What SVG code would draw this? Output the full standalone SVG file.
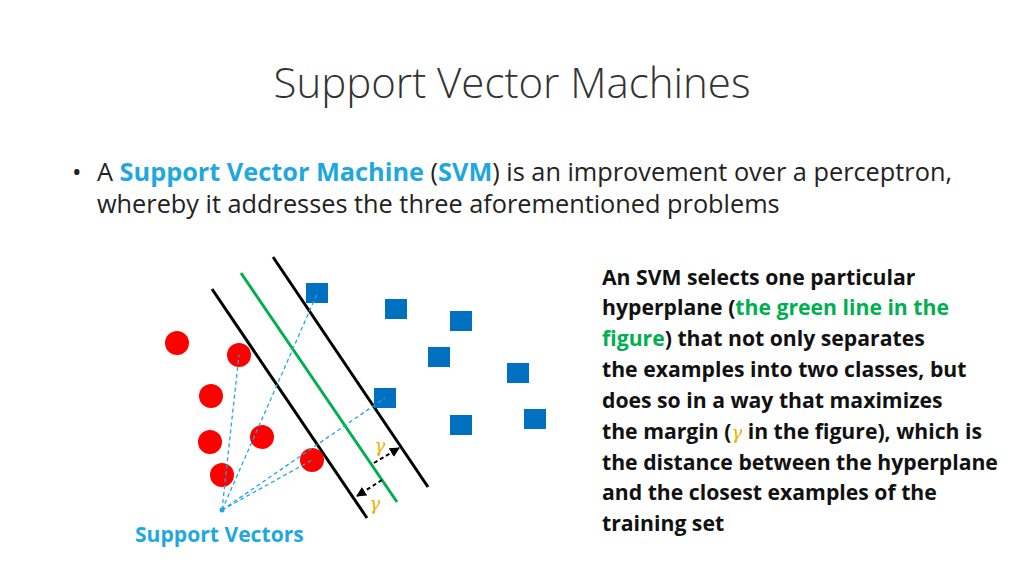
<svg xmlns="http://www.w3.org/2000/svg" width="1024" height="576" viewBox="0 0 1024 576">
<defs>
<style>
text{font-family:"Open Sans","Noto Sans","Liberation Sans",sans-serif}
.b{font-size:25.3px;fill:#222}
.r{font-weight:bold;font-size:21.2px;fill:#111}
.sq{fill:#0070C0}
.c{fill:#FF0000}
.d{stroke:#1FA8E0;stroke-width:1.3;stroke-dasharray:4 3;fill:none}
.g{font-family:"DejaVu Serif",serif;font-style:italic;fill:#F0B000;font-size:18px}
</style>
<marker id="ah" viewBox="0 0 10 10" refX="9" refY="5" markerWidth="5" markerHeight="5" orient="auto-start-reverse"><path d="M0,0L10,5L0,10z" fill="#000"/></marker>
</defs>
<rect width="1024" height="576" fill="#fff"/>
<text x="512" y="98" text-anchor="middle" font-size="42" fill="#333" style="font-weight:300">Support Vector Machines</text>
<text x="72" y="181" class="b">•</text>
<text x="97" y="181" class="b">A <tspan fill="#1FA8E0" font-weight="bold">Support Vector Machine</tspan> (<tspan fill="#1FA8E0" font-weight="bold">SVM</tspan>) is an improvement over a perceptron,</text>
<text x="97" y="213" class="b">whereby it addresses the three aforementioned problems</text>
<g id="text-right">
<text x="602" y="285" class="r">An SVM selects one particular</text>
<text x="602" y="315" class="r">hyperplane (<tspan fill="#00B050">the green line in the</tspan></text>
<text x="602" y="346" class="r"><tspan fill="#00B050">figure</tspan>) that not only separates</text>
<text x="602" y="377" class="r">the examples into two classes, but</text>
<text x="602" y="408" class="r">does so in a way that maximizes</text>
<text x="602" y="439" class="r">the margin (<tspan class="g" font-weight="normal">γ</tspan> in the figure), which is</text>
<text x="602" y="470" class="r">the distance between the hyperplane</text>
<text x="602" y="500" class="r">and the closest examples of the</text>
<text x="602" y="531" class="r">training set</text>
</g>
<g id="lines">
<line x1="212" y1="289" x2="367" y2="518" stroke="#000" stroke-width="3"/>
<line x1="241" y1="273" x2="397" y2="502" stroke="#00B050" stroke-width="3"/>
<line x1="273" y1="257" x2="428" y2="487" stroke="#000" stroke-width="3"/>
</g>
<g id="circles">
<circle class="c" cx="177" cy="343" r="12"/>
<circle class="c" cx="239" cy="355" r="12"/>
<circle class="c" cx="211" cy="396" r="12"/>
<circle class="c" cx="210" cy="442" r="12"/>
<circle class="c" cx="262" cy="437" r="12"/>
<circle class="c" cx="222" cy="475" r="12"/>
<circle class="c" cx="312" cy="460" r="12"/>
</g>
<g id="squares">
<rect class="sq" x="306" y="283" width="22" height="20"/>
<rect class="sq" x="385" y="299" width="22" height="20"/>
<rect class="sq" x="450" y="311" width="22" height="20"/>
<rect class="sq" x="428" y="347" width="22" height="20"/>
<rect class="sq" x="507" y="363" width="22" height="20"/>
<rect class="sq" x="374" y="388" width="22" height="20"/>
<rect class="sq" x="450" y="415" width="22" height="20"/>
<rect class="sq" x="524" y="409" width="22" height="20"/>
</g>
<g id="connectors">
<path class="d" d="M222,510L239,355M222,510L317,294M222,510L385,398M222,510L312,460"/>
<circle cx="222" cy="510" r="2.5" fill="#1FA8E0"/>
<line x1="374" y1="463" x2="399" y2="448" stroke="#000" stroke-width="2" stroke-dasharray="4 3" marker-end="url(#ah)"/>
<line x1="382" y1="480" x2="357" y2="496" stroke="#000" stroke-width="2" stroke-dasharray="4 3" marker-end="url(#ah)"/>
</g>
<text x="380" y="452" class="g" text-anchor="middle">γ</text>
<text x="375" y="510" class="g" text-anchor="middle">γ</text>
<text x="135" y="542" font-size="21.1" font-weight="bold" fill="#1FA8E0">Support Vectors</text>
</svg>
